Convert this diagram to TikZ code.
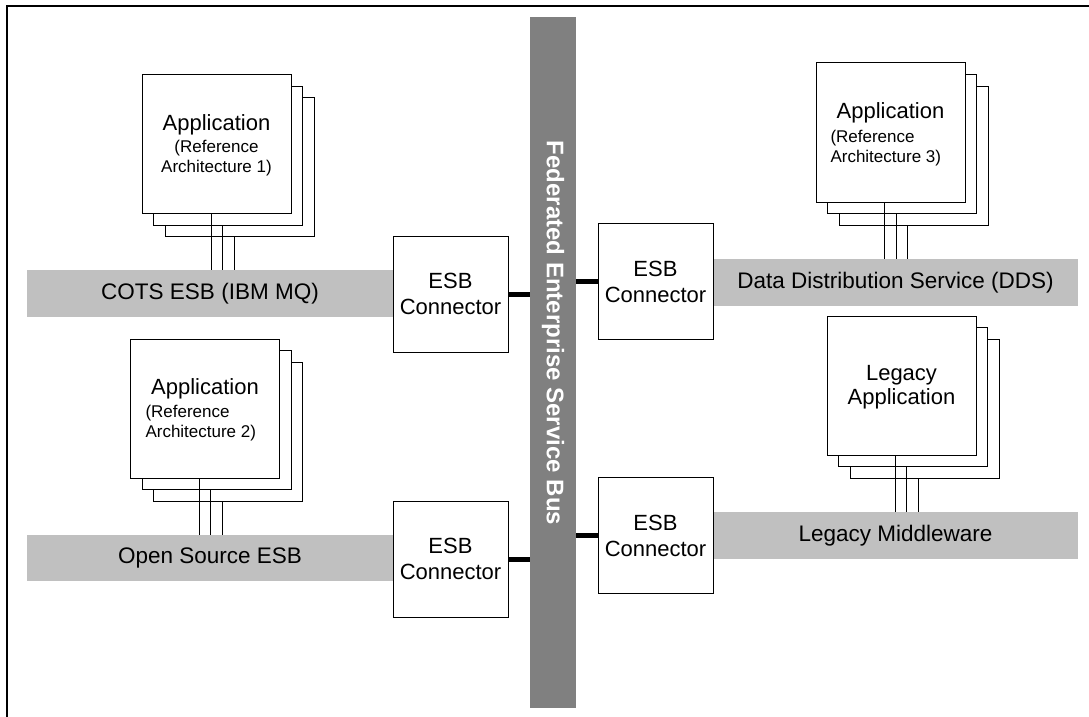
\documentclass[tikz,border=0pt]{standalone}
\usepackage{fontspec}
\setmainfont{Liberation Sans}
\definecolor{bargray}{RGB}{192,192,192}
\definecolor{busgray}{RGB}{128,128,128}
\begin{document}
\begin{tikzpicture}[x=1pt,y=-1pt,
 every node/.style={inner sep=0pt, outer sep=0pt},
 appbox/.style={draw=black, fill=white, line width=1pt, minimum width=149pt, minimum height=139pt},
 conbox/.style={draw=black, fill=white, line width=1pt, minimum width=115pt, minimum height=116pt, align=center, font=\fontsize{22}{26}\selectfont},
 bar/.style={fill=bargray, minimum height=47pt, font=\fontsize{22.5}{26}\selectfont},
 ttl/.style={font=\fontsize{22}{24}\selectfont},
 sub/.style={font=\fontsize{17}{20}\selectfont},
 link/.style={line width=1pt},
 buslink/.style={line width=5pt}]
\useasboundingbox (0,0) rectangle (1089,717);
\draw[line width=2pt] (7,717) -- (7,6) -- (1089,6);

% bus
\node[fill=busgray, minimum width=46pt, minimum height=691pt] (bus) at (553,362.5) {};
\node[rotate=-90, text=white, font=\bfseries\fontsize{24}{28}\selectfont] (buslabel) at (553,333) {Federated Enterprise Service Bus};

% bars
\node[bar, minimum width=366pt] (cots) at (210,293.5) {COTS ESB (IBM MQ)};
\node[bar, minimum width=366pt, minimum height=46pt] (oss) at (210,558) {Open Source ESB};
\node[bar, minimum width=365pt] (dds) at (895.5,282.5) {Data Distribution Service (DDS)};
\node[bar, minimum width=365pt] (lmw) at (895.5,535.5) {Legacy Middleware};

% application 1
\node[appbox] (a1c) at (239.5,167) {};
\node[appbox] (a1b) at (228,155.5) {};
\node[appbox] (a1) at (216.5,144) {};
\foreach \b in {a1,a1b,a1c} \draw[link] ([xshift=-5.5pt]\b.south) -- ([xshift=-5.5pt]\b.south |- cots.north);
\node[ttl] (a1t) at ([yshift=-50pt]a1.north) {Application};
\node[sub, align=center] (a1s) at ([yshift=-84pt]a1.north) {(Reference\\Architecture 1)};

% application 2
\node[appbox] (a2c) at (228,431.5) {};
\node[appbox] (a2b) at (216.5,420) {};
\node[appbox] (a2) at (205,408.5) {};
\foreach \b in {a2,a2b,a2c} \draw[link] ([xshift=-6pt]\b.south) -- ([xshift=-6pt]\b.south |- oss.north);
\node[ttl] (a2t) at ([yshift=-50pt]a2.north) {Application};
\node[sub, align=left, anchor=west] (a2s) at ([xshift=15pt,yshift=-84pt]a2.north west) {(Reference\\Architecture 2)};

% application 3
\node[appbox] (a3c) at (913.5,155.5) {};
\node[appbox] (a3b) at (902,144) {};
\node[appbox] (a3) at (890.5,132.5) {};
\foreach \b in {a3,a3b,a3c} \draw[link] ([xshift=-6pt]\b.south) -- ([xshift=-6pt]\b.south |- dds.north);
\node[ttl] (a3t) at ([yshift=-50pt]a3.north) {Application};
\node[sub, align=left, anchor=west] (a3s) at ([xshift=14.5pt,yshift=-85pt]a3.north west) {(Reference\\Architecture 3)};

% legacy application
\node[appbox] (l1c) at (924.5,408.5) {};
\node[appbox] (l1b) at (913,397) {};
\node[appbox] (l1) at (901.5,385.5) {};
\foreach \b in {l1,l1b,l1c} \draw[link] ([xshift=-6.5pt]\b.south) -- ([xshift=-6.5pt]\b.south |- lmw.north);
\node[ttl, align=center] (l1t) at ([yshift=-71pt]l1.north) {Legacy\\Application};

% connectors
\node[conbox] (c1) at (450.5,294) {ESB\\Connector};
\node[conbox] (c2) at (450.5,559) {ESB\\Connector};
\node[conbox] (c3) at (655.5,281.5) {ESB\\Connector};
\node[conbox] (c4) at (655.5,535.5) {ESB\\Connector};
\draw[buslink] (c1.east) -- (c1.east -| bus.west);
\draw[buslink] (c2.east) -- (c2.east -| bus.west);
\draw[buslink] (c3.west) -- (c3.west -| bus.east);
\draw[buslink] (c4.west) -- (c4.west -| bus.east);
\end{tikzpicture}
\end{document}
